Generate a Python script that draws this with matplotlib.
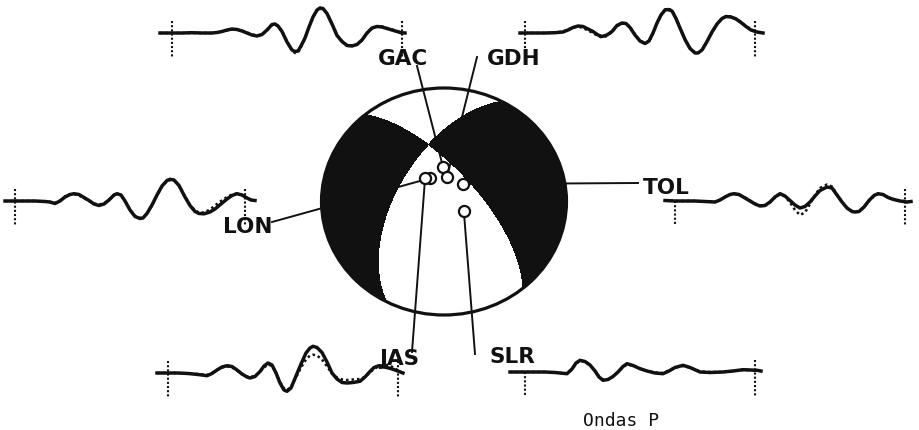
import numpy as np
import matplotlib.pyplot as plt
from matplotlib.patches import Circle

# focal mechanism: two nodal planes (strike, dip in degrees)
strike1, dip1 = 320, 68
strike2, dip2 = 208, 58

# stations: azimuth and take-off angle (deg)
stations = ["GAC", "GDH", "LON", "TOL", "JAS", "SLR"]
azimuth = [358.5, 6.5, 331.2, 45.2, 323.2, 117.3]
takeoff = [24.8, 17.6, 19.1, 17.7, 21.0, 14.8]

# P waveforms, time in s from window start, amplitude in counts
gac_t = [-1.2, 0, 1, 2, 3, 4, 4.5, 5, 5.5, 6, 6.5, 7, 7.5, 8, 8.5, 9, 9.5,
         10, 10.3, 10.6, 11, 11.5, 12, 12.3, 12.6, 12.9, 13.3, 13.7, 14.1, 14.5, 14.8, 15.1, 15.5,
         16, 16.5, 17, 17.5, 18, 18.5, 19, 19.5, 20, 20.5, 21, 21.5, 22, 22.5, 23, 23.3]
gac_obs = [0, 0, 0, 0.3, 0, 0, 0.5, 1.5, 3, 4, 3.5, 2, 0, -2, -3, -1.5, 3,
           8.5, 9, 7, 1.5, -9, -17, -18.5, -18, -13, -5, 6, 16, 23, 25, 24.5, 19.5,
           9, -2.5, -8.5, -12.5, -13, -11.5, -7, 0, 5, 6.5, 6, 4.5, 3, 1.5, 0, 0]
gac_syn = [0, 0, 0, 0, 0, 0, 0.5, 1.5, 2.5, 3.5, 3.5, 2.5, 0.5, -1.5, -2.5, -1.5, 2.5,
           8, 8.5, 7, 2, -8.5, -17.5, -20, -19.5, -14, -5.5, 6, 16, 22.5, 24, 24, 19.5,
           9.5, -2, -8, -12, -12.5, -11.5, -7.5, -0.5, 4.5, 6.5, 6.5, 5, 3.5, 2, 0.5, 0]

gdh_t = [-0.5, 0, 1, 2, 3, 3.8, 4.3, 4.8, 5.3, 5.8, 6.3, 6.8, 7.3, 7.7,
         8.2, 8.7, 9.2, 9.7, 10.1, 10.5, 11, 11.5, 12, 12.4, 12.8, 13.2, 13.6, 14, 14.3, 14.7, 15.1, 15.5,
         16, 16.5, 17, 17.3, 17.7, 18.2, 18.7, 19.2, 19.7, 20.1, 20.6, 21.1, 21.6, 22.1, 22.6, 23.2, 23.8]
gdh_obs = [0, 0, 0, 0, 0.3, 1, 3, 5.5, 7, 6.5, 4, 1.5, -2, -3.5,
           -2, 1.5, 7.5, 10, 9.5, 5.5, -2, -8, -10.5, -8, 0, 10, 18, 23, 23.5, 22, 14.5, 5,
           -6.5, -15.5, -20, -20, -17, -8.5, 1, 9, 14.5, 16.5, 16, 14, 10.5, 6.5, 3, 1, 0]
gdh_syn = [0, 0, 0, 0, 0.3, 1.5, 3.5, 5.5, 6.5, 5, 2.5, 0, -3, -4.5,
           -3, 1, 7, 9.5, 9.5, 6, -1.5, -7.5, -10.5, -8.5, -0.5, 9.5, 18, 23.5, 24.5, 22.5, 15, 5,
           -6.5, -15, -19.5, -20, -17.5, -9, 0.5, 8.5, 14.5, 16.5, 16.5, 14.5, 11, 7, 3.5, 1, 0]

lon_t = [-1, 0, 1, 2, 3, 3.5, 4, 4.5, 5, 5.5, 5.9, 6.4, 6.9, 7.4,
         7.9, 8.4, 8.9, 9.4, 9.9, 10.2, 10.6, 11, 11.5, 12, 12.5, 12.8, 13.2, 13.7, 14.2, 14.7, 15.2, 15.5,
         15.9, 16.4, 17, 17.5, 18, 18.4, 18.9, 19.5, 20, 20.6, 21.2, 21.7, 22.2, 22.7, 23.2, 23.6, 24]
lon_obs = [0, 0, 0, 0, -0.5, -1, -2.5, 0, 4, 6.5, 7.3, 6.5, 3.5, 0.5,
           -3, -4.5, -3, 1, 6, 7.3, 6, 0, -9, -15.5, -17.5, -17, -12.5, -4, 6, 15, 20.5, 21.7,
           21, 15.5, 4, -4.5, -10.5, -12.5, -12.8, -11, -8, -3, 2, 5.5, 7.3, 6, 3, 1, 0.5]
lon_syn = [0, 0, 0, 0, -0.5, -1, -2, 0.5, 4.5, 6.5, 6.8, 5.5, 3, 0,
           -2.5, -3.5, -2.5, 1.5, 6, 7, 6, 0, -8.5, -15, -17, -16.5, -12.5, -4.5, 5.5, 14.5, 20, 21,
           20.5, 15.5, 4.5, -4, -9.5, -11.5, -11.5, -8.5, -4.5, 0, 4, 6.5, 7.5, 6, 3, 1, 0.5]

tol_t = [-1, 0, 1, 2, 3, 4, 4.5, 5, 5.5, 5.9, 6.4, 7, 7.5, 8, 8.5,
         9, 9.5, 10, 10.5, 11, 11.5, 12, 12.5, 13, 13.5, 14, 14.5, 15.2, 15.7, 16.2, 16.7, 17.2, 17.7,
         18, 18.4, 18.9, 19.4, 19.9, 20.3, 20.8, 21.3, 21.8, 22.5, 23.2, 23.6]
tol_obs = [0.5, 0, 0, 0, -0.5, -1, 1, 4, 6.5, 7.3, 6.5, 3, 0, -3, -5,
           -4.5, -1, 4, 7.3, 5, 0.5, -4, -7, -5.5, -1, 5, 10.5, 14, 13, 6, -1, -7, -10.5,
           -11, -10.5, -6, 0.5, 5.5, 7.3, 6.5, 3.5, 1.7, 0, -1, -0.5]
tol_syn = [0.5, 0, 0, 0, -0.5, -1, 1, 4, 6.5, 7, 6.5, 3.5, 0.5, -2.5, -4.5,
           -4.5, -1.5, 3.5, 6.5, 4.5, -1.5, -9, -14, -11.5, -3, 6, 13, 16.5, 14.5, 6.5, -1, -7, -10,
           -11, -10.5, -6.5, 0, 5, 7, 6.5, 4, 2, 0.5, -0.5, -0.5]

jas_t = [-1.1, 0, 1, 2, 3, 3.9, 4.4, 4.9, 5.4, 5.9, 6.4, 6.9, 7.4, 7.9,
         8.2, 8.7, 9.2, 9.6, 10, 10.4, 10.8, 11.2, 11.6, 11.9, 12.3, 12.8, 13.3, 13.8, 14.2, 14.5, 14.9, 15.4,
         15.9, 16.4, 16.9, 17.4, 17.9, 18.5, 19.2, 19.7, 20.2, 20.6, 21.1, 21.6, 22.1, 22.7, 23.1, 23.5]
jas_obs = [0, 0, 0, -0.5, -1.5, -2.7, -0.5, 3, 6, 7.3, 6.5, 3, -1, -4,
           -5, -3.5, 1.5, 7, 10, 8, 0, -10, -17, -18.3, -15, -3, 9, 20, 25, 26.7, 25.5, 20.5,
           11, 0, -6, -9.5, -10, -9.5, -8.3, -4, 1.5, 5.5, 7.3, 6, 5, 3, 1.5, 0]
jas_syn = [0, 0, 0, -0.5, -1, -2, 0, 3, 5.5, 6.5, 5.5, 2.5, -1, -3.5,
           -4, -3, 1, 5.5, 8.5, 7, 0.5, -9, -15.5, -17, -14, -4.5, 5.5, 13.5, 17.5, 18.3, 17.5, 13.5,
           6.5, -0.5, -4.5, -6.5, -7, -6.5, -6, -4, 0.5, 4, 7, 8, 8, 4.5, 2, 0]

slr_t = [-1.5, 0, 1, 2, 3, 4.2, 4.7, 5.1, 5.5, 6, 6.5, 7, 7.4, 7.8,
         8.3, 8.8, 9.3, 9.8, 10.2, 10.8, 11.5, 12.2, 13, 13.8, 14.4, 15, 15.8, 16.5, 17.5, 18.5, 19.8, 20.8,
         21.8, 22.5, 23.2, 23.6]
slr_obs = [0, 0, 0, 0, -0.5, -1.7, 3, 9, 11.7, 10.5, 7, 1, -5, -8.3,
           -7.5, -4.5, 0, 5.5, 8.3, 6.5, 3.3, 1, -1, -1.7, 1, 4.5, 6.7, 4.5, 0, -0.5, 0, 1,
           2.3, 2, 1.7, 1]
slr_syn = [0, 0, 0, 0, -0.5, -1.5, 2.5, 8.5, 11, 10.5, 6.5, 1.5, -4.5, -7.5,
           -7.5, -4.5, 0, 5, 7.5, 6.5, 3.5, 1, -0.5, -1, 1.5, 4.5, 6, 4.5, 0.5, 0, 0, 1,
           2, 2, 1.5, 1]

window = (0, 23)   # analysis window marked by the end ticks

W, H = 919, 430
INK = "#111111"
fig = plt.figure(figsize=(W / 100, H / 100), dpi=100)


def px_rect(x, y, w, h):
    # pixel box (top-left origin) -> figure fraction
    return [x / W, 1 - (y + h) / H, w / W, h / H]


# ---- beachball ----
axb = fig.add_axes(px_rect(321.5, 88, 245, 227))
axb.set_xlim(-1, 1)
axb.set_ylim(-1, 1)
axb.axis("off")
axb.set_zorder(1)


def plane_normal(strike, dip):
    s, d = np.radians(strike), np.radians(dip)
    return np.array([-np.sin(d) * np.sin(s), np.sin(d) * np.cos(s), -np.cos(d)])


def ray(u, v):
    # lower hemisphere, equal-area projection -> (N, E, Down)
    r = np.clip(np.hypot(u, v) / np.sqrt(2), 0, 1)
    colat = 2 * np.arcsin(r)
    az = np.arctan2(u, v)
    return np.sin(colat) * np.cos(az), np.sin(colat) * np.sin(az), np.cos(colat)


n1 = plane_normal(strike1, dip1)
n2 = plane_normal(strike2, dip2)
g = np.linspace(-1.02, 1.02, 801)
U, V = np.meshgrid(g, g)
xn, xe, xd = ray(U, V)
F = (n1[0] * xn + n1[1] * xe + n1[2] * xd) * (n2[0] * xn + n2[1] * xe + n2[2] * xd)
tn, te, td = ray(0.0, 0.95)
top = np.sign((n1 @ [tn, te, td]) * (n2 @ [tn, te, td]))
P = -F * top
cs = axb.contourf(U, V, P, levels=[0, P.max() + 1], colors=[INK])
cs.set_clip_path(Circle((0, 0), 1, transform=axb.transData))
axb.add_patch(Circle((0, 0), 1, fill=False, lw=2.3, ec=INK, clip_on=False))

# ---- overlay in pixel units for labels and leader lines ----
ov = fig.add_axes([0, 0, 1, 1])
ov.set_xlim(0, W)
ov.set_ylim(H, 0)
ov.axis("off")
ov.set_zorder(5)
ov.patch.set_visible(False)

label_xy = [(403, 59), (514, 59), (248, 227), (666, 188), (399, 359), (512, 357)]
leader_end = [(417, 66), (477, 57), (272, 222), (638, 183), (412, 352), (475, 354)]

to_ov = ov.transData.inverted()
for name, az, ih, lxy, end in zip(stations, azimuth, takeoff, label_xy, leader_end):
    r = np.sqrt(2) * np.sin(np.radians(ih) / 2)
    su, sv = r * np.sin(np.radians(az)), r * np.cos(np.radians(az))
    sx, sy = to_ov.transform(axb.transData.transform((su, sv)))
    ov.plot([sx, end[0]], [sy, end[1]], color=INK, lw=1.4, zorder=2)
    ov.plot(sx, sy, "o", ms=8, mfc="white", mec=INK, mew=1.6, zorder=3)
    ov.text(lxy[0], lxy[1], name, ha="center", va="center", fontsize=15.5,
            fontweight="bold", family="DejaVu Sans", color=INK, zorder=4)

ov.text(621, 421, "Ondas P", ha="center", va="center", fontsize=13,
        family="DejaVu Sans Mono", color=INK)

# ---- waveforms: observed (solid) and synthetic (dotted) ----
traces = [(gac_t, gac_obs, gac_syn), (gdh_t, gdh_obs, gdh_syn), (lon_t, lon_obs, lon_syn),
          (tol_t, tol_obs, tol_syn), (jas_t, jas_obs, jas_syn), (slr_t, slr_obs, slr_syn)]
trace_x0 = [172, 525, 15, 675, 168, 525]      # pixel of window start
trace_base = [33, 33, 201, 201, 373, 372]     # pixel of zero line
left_tick_top = [12, 12, 12, 0, 12, 0]

for (t, obs, syn), x0, base, ltop in zip(traces, trace_x0, trace_base, left_tick_top):
    ax = fig.add_axes(px_rect(x0 - 20, base - 30, 270, 60))
    ax.set_xlim(-2, 25)
    ax.set_ylim(-30, 30)
    ax.axis("off")
    ax.set_zorder(2)
    ax.plot(t, syn, color=INK, lw=1.8, ls=(0, (1, 1.2)), clip_on=False)
    ax.plot(t, obs, color=INK, lw=2.5, solid_joinstyle="round", clip_on=False)
    ax.plot([window[0]] * 2, [ltop, -24], color=INK, lw=1.5, ls=(0, (1, 1)), clip_on=False)
    ax.plot([window[1]] * 2, [12, -24], color=INK, lw=1.5, ls=(0, (1, 1)), clip_on=False)

fig.savefig("out.png", dpi=100, facecolor="white")
